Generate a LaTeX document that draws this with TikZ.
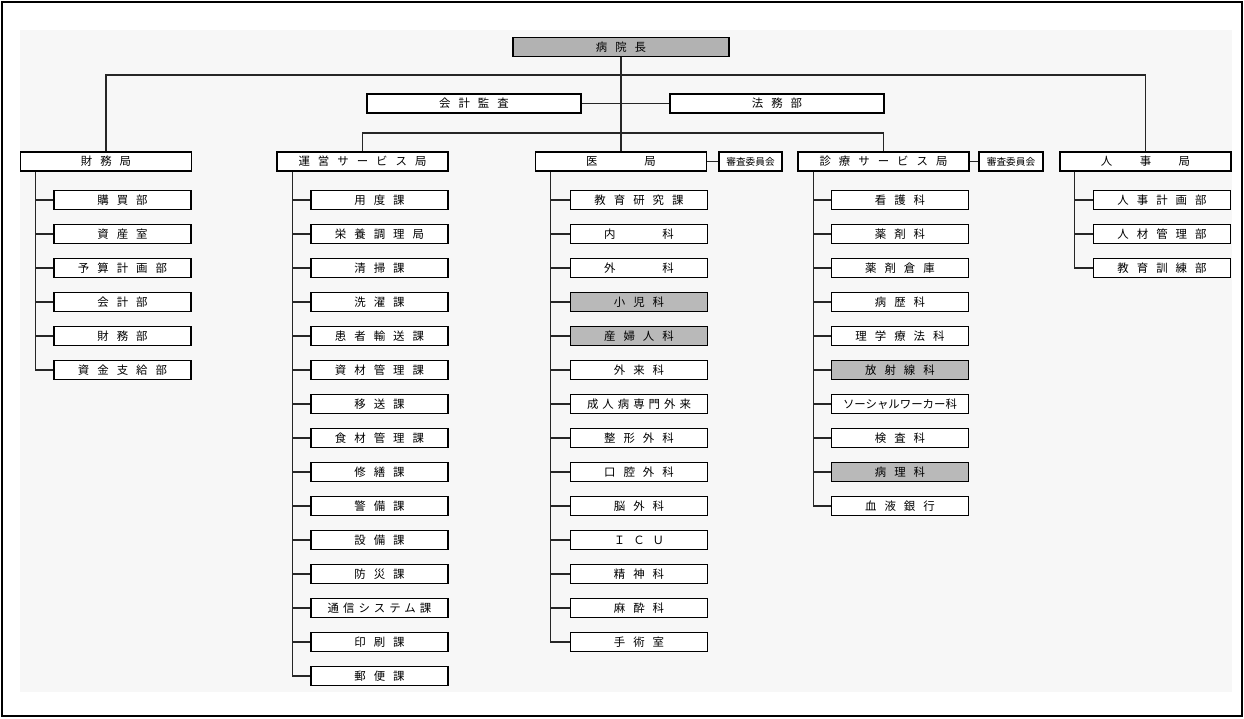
\documentclass[tikz,border=0pt]{standalone}
\usepackage{fontspec}
\setmainfont{Noto Sans CJK JP}
\newfontfamily\jpwide[LetterSpace=70]{Noto Sans CJK JP}
\newfontfamily\jpmid[LetterSpace=35]{Noto Sans CJK JP}
\usetikzlibrary{positioning}
\tikzset{
  unit/.style={draw, line width=0.9pt, minimum height=0.38cm, inner sep=0pt,
               font=\jpwide\fontsize{6.5}{7}\selectfont},
  head/.style={unit, fill=gray!60, minimum width=4.32cm},
  staff/.style={unit, fill=white, minimum width=4.28cm},
  bureau/.style={unit, fill=white, minimum width=3.42cm},
  sec/.style={unit, fill=white, minimum width=2.74cm},
  shade/.style={sec, fill=gray!55},
  secm/.style={sec, font=\jpmid\fontsize{6.5}{7}\selectfont},
  secn/.style={sec, font=\fontsize{6.5}{7}\selectfont},
  cttee/.style={unit, fill=white, minimum width=1.27cm, font=\fontsize{5.5}{6}\selectfont},
  link/.style={line width=0.8pt, draw=black!85},
}
\begin{document}
\begin{tikzpicture}[x=0.02cm, y=-0.02cm]
  \useasboundingbox (0,0) rectangle (1244,718);
  \fill[black!3] (20,30) rectangle (1232,692);
  \draw[line width=1.6pt] (2,2) rectangle (1242,716);

  % top
  \node[head] (head) at (621,47) {病院長};
  \node[staff] (audit) at (474,103.5) {会計監査};
  \node[staff] (legal) at (777,103.5) {法務部};
  \coordinate (busA) at (621,75);
  \coordinate (busB) at (621,133);

  % bureaus
  \node[bureau] (fin) at (106,161.5) {財務局};
  \node[bureau] (ops) at (362.5,161.5) {運営サービス局};
  \node[bureau] (med) at (621,161.5) {医　　局};
  \node[bureau] (clin) at (883.5,161.5) {診療サービス局};
  \node[bureau] (hr) at (1145.5,161.5) {人　事　局};
  \node[cttee] (medc) at (750.5,161.5) {審査委員会};
  \node[cttee] (clinc) at (1011,161.5) {審査委員会};

  \draw[link] (head) -- (med);
  \draw[link] (audit) -- (legal);
  \draw[link] (fin.north) |- (busA) -| (hr.north);
  \draw[link] (ops.north) |- (busB) -| (clin.north);
  \draw[link] (med) -- (medc);
  \draw[link] (clin) -- (clinc);

  % sections
  \foreach \t/\s [count=\i] in {購買部/sec, 資産室/sec, 予算計画部/sec, 会計部/sec,
      財務部/sec, 資金支給部/sec} {
    \node[\s] (fin\i) at (122.5,{200+34*(\i-1)}) {\t};
    \draw[link] ([xshift=0.32cm]fin.south west) |- (fin\i.west);
  }
  \foreach \t/\s [count=\i] in {用度課/sec, 栄養調理局/sec, 清掃課/sec, 洗濯課/sec,
      患者輸送課/sec, 資材管理課/sec, 移送課/sec, 食材管理課/sec, 修繕課/sec,
      警備課/sec, 設備課/sec, 防災課/sec, 通信システム課/secm, 印刷課/sec, 郵便課/sec} {
    \node[\s] (ops\i) at (379.5,{200+34*(\i-1)}) {\t};
    \draw[link] ([xshift=0.32cm]ops.south west) |- (ops\i.west);
  }
  \foreach \t/\s [count=\i] in {教育研究課/sec, 内　　科/sec, 外　　科/sec, 小児科/shade,
      産婦人科/shade, 外来科/sec, 成人病専門外来/secm, 整形外科/sec, 口腔外科/sec,
      脳外科/sec, ＩＣＵ/sec, 精神科/sec, 麻酔科/sec, 手術室/sec} {
    \node[\s] (med\i) at (639,{200+34*(\i-1)}) {\t};
    \draw[link] ([xshift=0.32cm]med.south west) |- (med\i.west);
  }
  \foreach \t/\s [count=\i] in {看護科/sec, 薬剤科/sec, 薬剤倉庫/sec, 病歴科/sec,
      理学療法科/sec, 放射線科/shade, ソーシャルワーカー科/secn, 検査科/sec,
      病理科/shade, 血液銀行/sec} {
    \node[\s] (clin\i) at (900,{200+34*(\i-1)}) {\t};
    \draw[link] ([xshift=0.32cm]clin.south west) |- (clin\i.west);
  }
  \foreach \t/\s [count=\i] in {人事計画部/sec, 人材管理部/sec, 教育訓練部/sec} {
    \node[\s] (hr\i) at (1162,{200+34*(\i-1)}) {\t};
    \draw[link] ([xshift=0.3cm]hr.south west) |- (hr\i.west);
  }
\end{tikzpicture}
\end{document}
